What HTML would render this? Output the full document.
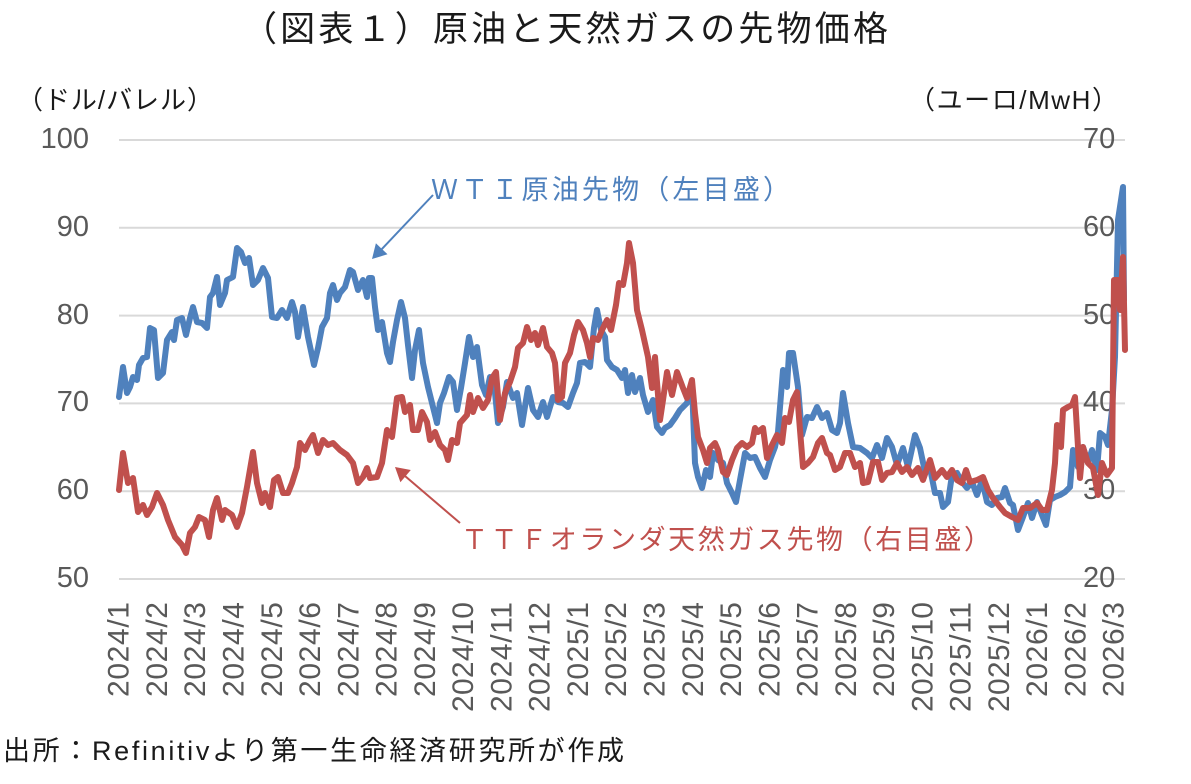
<!DOCTYPE html>
<html><head><meta charset="utf-8"><style>
html,body{margin:0;padding:0;background:#fff;}
svg{display:block;}
text{font-family:"Liberation Sans","Noto Sans CJK JP",sans-serif;}
</style></head><body>
<svg width="1191" height="784" viewBox="0 0 1191 784" xmlns="http://www.w3.org/2000/svg">
<rect width="1191" height="784" fill="#fff"/>
<!-- title -->
<text x="242" y="41" font-size="35" fill="#1a1a1a" textLength="646" lengthAdjust="spacing">（図表１）原油と天然ガスの先物価格</text>
<!-- unit labels -->
<text x="17" y="109" font-size="26" fill="#1a1a1a" textLength="196" lengthAdjust="spacing">（ドル/バレル）</text>
<text x="909" y="109" font-size="26" fill="#1a1a1a" textLength="209" lengthAdjust="spacing">（ユーロ/MwH）</text>
<!-- gridlines -->
<g stroke="#d9d9d9" stroke-width="2">
<line x1="119" x2="1125" y1="140" y2="140"/>
<line x1="119" x2="1125" y1="227.8" y2="227.8"/>
<line x1="119" x2="1125" y1="315.6" y2="315.6"/>
<line x1="119" x2="1125" y1="403.4" y2="403.4"/>
<line x1="119" x2="1125" y1="491.2" y2="491.2"/>
<line x1="119" x2="1125" y1="579" y2="579"/>
</g>
<!-- left ticks -->
<g font-size="29" fill="#595959" text-anchor="end">
<text x="89" y="148">100</text>
<text x="89" y="236">90</text>
<text x="89" y="324">80</text>
<text x="89" y="411">70</text>
<text x="89" y="499">60</text>
<text x="89" y="587">50</text>
</g>
<!-- right ticks -->
<g font-size="29" fill="#595959" text-anchor="start">
<text x="1083" y="148">70</text>
<text x="1083" y="236">60</text>
<text x="1083" y="324">50</text>
<text x="1083" y="411">40</text>
<text x="1083" y="499">30</text>
<text x="1083" y="587">20</text>
</g>
<!-- x labels -->
<g font-size="30" fill="#595959" text-anchor="end">
<text transform="translate(128.7,602) rotate(-90)" textLength="95" lengthAdjust="spacing">2024/1</text>
<text transform="translate(167.0,602) rotate(-90)" textLength="95" lengthAdjust="spacing">2024/2</text>
<text transform="translate(205.2,602) rotate(-90)" textLength="95" lengthAdjust="spacing">2024/3</text>
<text transform="translate(243.5,602) rotate(-90)" textLength="95" lengthAdjust="spacing">2024/4</text>
<text transform="translate(281.8,602) rotate(-90)" textLength="95" lengthAdjust="spacing">2024/5</text>
<text transform="translate(320.1,602) rotate(-90)" textLength="95" lengthAdjust="spacing">2024/6</text>
<text transform="translate(358.3,602) rotate(-90)" textLength="95" lengthAdjust="spacing">2024/7</text>
<text transform="translate(396.6,602) rotate(-90)" textLength="95" lengthAdjust="spacing">2024/8</text>
<text transform="translate(434.9,602) rotate(-90)" textLength="95" lengthAdjust="spacing">2024/9</text>
<text transform="translate(473.1,602) rotate(-90)" textLength="110" lengthAdjust="spacing">2024/10</text>
<text transform="translate(511.4,602) rotate(-90)" textLength="110" lengthAdjust="spacing">2024/11</text>
<text transform="translate(549.7,602) rotate(-90)" textLength="110" lengthAdjust="spacing">2024/12</text>
<text transform="translate(587.9,602) rotate(-90)" textLength="95" lengthAdjust="spacing">2025/1</text>
<text transform="translate(626.2,602) rotate(-90)" textLength="95" lengthAdjust="spacing">2025/2</text>
<text transform="translate(664.5,602) rotate(-90)" textLength="95" lengthAdjust="spacing">2025/3</text>
<text transform="translate(702.8,602) rotate(-90)" textLength="95" lengthAdjust="spacing">2025/4</text>
<text transform="translate(741.0,602) rotate(-90)" textLength="95" lengthAdjust="spacing">2025/5</text>
<text transform="translate(779.3,602) rotate(-90)" textLength="95" lengthAdjust="spacing">2025/6</text>
<text transform="translate(817.6,602) rotate(-90)" textLength="95" lengthAdjust="spacing">2025/7</text>
<text transform="translate(855.8,602) rotate(-90)" textLength="95" lengthAdjust="spacing">2025/8</text>
<text transform="translate(894.1,602) rotate(-90)" textLength="95" lengthAdjust="spacing">2025/9</text>
<text transform="translate(932.4,602) rotate(-90)" textLength="110" lengthAdjust="spacing">2025/10</text>
<text transform="translate(970.6,602) rotate(-90)" textLength="110" lengthAdjust="spacing">2025/11</text>
<text transform="translate(1008.9,602) rotate(-90)" textLength="110" lengthAdjust="spacing">2025/12</text>
<text transform="translate(1047.2,602) rotate(-90)" textLength="95" lengthAdjust="spacing">2026/1</text>
<text transform="translate(1085.5,602) rotate(-90)" textLength="95" lengthAdjust="spacing">2026/2</text>
<text transform="translate(1123.7,602) rotate(-90)" textLength="95" lengthAdjust="spacing">2026/3</text>
</g>
<!-- WTI series -->
<polyline fill="none" stroke="#4f81bd" stroke-width="6" stroke-linejoin="round" stroke-linecap="round" points="119,397 123,367 127,393 130,387 133,377 137,380 139,365 143,358 147,357 150,328 154,330 158,378 163,373 167,340 172,332 174,340 177,320 182,318 186,335 190,318 193,307 197,322 202,323 207,328 210,297 213,293 217,277 220,305 225,293 227,280 233,277 237,248 241,252 245,263 249,258 253,285 258,280 263,268 268,278 272,317 277,318 282,310 287,318 292,302 295,312 298,337 303,307 308,337 314,365 318,348 322,327 327,318 330,293 333,285 337,300 340,293 345,287 350,270 353,272 358,290 363,280 367,297 369,278 372,278 375,307 378,330 382,322 387,353 390,362 393,342 397,320 401,302 405,318 408,345 412,378 415,350 419,330 423,363 428,387 432,403 437,423 440,403 444,393 449,377 453,382 457,410 461,388 465,363 469,337 473,357 477,347 482,385 486,395 490,377 495,393 498,423 503,407 507,382 513,398 517,393 522,425 528,388 533,410 538,417 543,402 547,417 553,397 558,402 563,403 568,407 573,393 577,383 580,363 585,362 590,367 594,328 597,310 601,330 605,337 607,360 612,367 617,370 622,378 625,370 628,393 632,375 635,392 640,378 643,395 648,412 653,400 657,427 662,433 665,428 670,425 675,418 680,410 687,403 692,385 695,463 698,477 702,488 706,470 710,477 713,453 718,460 723,463 727,483 732,493 736,502 740,480 745,453 750,458 755,457 760,468 765,477 770,460 775,447 778,432 783,370 787,387 789,353 793,353 798,387 802,435 807,417 812,418 817,407 822,418 827,413 832,430 837,433 840,423 843,393 848,423 853,447 860,448 867,453 872,458 877,445 882,458 887,438 892,447 897,465 903,448 908,467 915,435 920,448 925,472 930,468 935,493 940,493 943,507 948,502 952,475 957,473 962,482 967,488 972,482 977,495 982,480 987,502 992,505 997,498 1002,497 1005,488 1010,503 1013,505 1018,530 1023,517 1028,503 1032,518 1037,502 1042,515 1046,525 1050,500 1055,497 1060,495 1065,492 1070,487 1073,450 1078,467 1083,447 1088,463 1092,450 1097,470 1100,433 1105,437 1108,445 1112,410 1115,357 1118,220 1123,187 1124,300"/>
<!-- TTF series -->
<polyline fill="none" stroke="#c0504d" stroke-width="6" stroke-linejoin="round" stroke-linecap="round" points="119,490 123,453 128,483 133,478 138,512 143,505 147,515 152,507 157,493 163,505 168,520 175,537 182,545 186,553 190,533 195,527 199,517 205,520 209,537 213,510 217,498 222,520 225,510 232,515 237,527 242,513 247,487 253,452 257,483 262,503 265,493 270,507 274,480 278,477 283,493 288,493 292,483 297,467 300,443 305,450 310,440 313,435 318,453 323,440 328,445 333,443 340,450 347,455 353,463 358,483 363,477 367,468 370,478 377,477 382,463 387,430 392,437 397,398 402,397 405,412 410,405 413,430 418,430 422,412 427,422 430,440 435,432 440,445 445,450 448,460 452,440 457,443 460,423 467,415 470,395 473,412 478,398 483,408 488,400 492,378 496,372 500,420 505,393 510,382 515,367 518,348 523,343 527,327 531,340 535,333 538,345 543,328 547,347 552,353 555,363 558,400 562,397 565,363 570,353 574,335 578,322 583,330 587,343 590,357 593,338 598,340 602,330 607,320 611,330 616,305 619,283 623,285 627,263 629,243 633,263 637,310 642,330 648,357 652,388 655,357 660,420 663,400 667,372 672,395 677,372 680,380 683,388 687,398 692,380 695,413 698,437 703,450 707,463 710,448 715,443 718,450 723,472 727,475 732,460 737,448 742,443 747,447 752,443 755,428 758,432 763,428 767,458 772,445 777,435 782,443 785,418 789,422 793,400 797,392 800,430 803,467 808,463 813,457 818,443 822,438 827,453 830,455 835,470 840,467 845,453 850,453 855,467 860,463 863,483 868,482 873,462 878,462 882,480 887,473 892,472 897,463 902,472 907,467 912,475 918,468 923,480 930,460 935,478 942,470 947,477 952,470 957,480 962,483 966,470 970,482 977,480 983,477 988,490 993,498 1000,507 1005,513 1012,517 1018,520 1023,508 1030,508 1037,503 1042,510 1047,510 1052,490 1055,463 1057,425 1061,447 1063,410 1068,407 1072,405 1075,397 1078,447 1080,478 1083,447 1088,463 1093,468 1098,495 1102,463 1107,475 1112,468 1114,280 1118,280 1120,310 1123,257 1125,350"/>
<!-- arrows -->
<line x1="433" y1="195" x2="381" y2="250" stroke="#4f81bd" stroke-width="2"/>
<polygon points="372,259 387.5,254.3 375.9,243.3" fill="#4f81bd"/>
<line x1="460" y1="523" x2="405" y2="476" stroke="#c0504d" stroke-width="2"/>
<polygon points="395,467 410.8,470 400.4,482.2" fill="#c0504d"/>
<!-- annotations -->
<text x="431" y="199" font-size="27" fill="#4f81bd" textLength="359" lengthAdjust="spacing">ＷＴＩ原油先物（左目盛）</text>
<text x="461" y="549" font-size="27" fill="#c0504d" textLength="530" lengthAdjust="spacing">ＴＴＦオランダ天然ガス先物（右目盛）</text>
<!-- footer -->
<text x="3" y="760" font-size="27" fill="#1a1a1a" textLength="621" lengthAdjust="spacing">出所：Refinitivより第一生命経済研究所が作成</text>
</svg>
</body></html>
